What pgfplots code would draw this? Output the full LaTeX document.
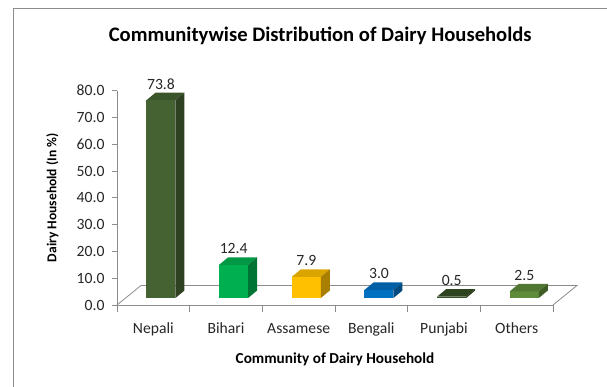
\documentclass[border=0pt]{standalone}
\usepackage{pgfplots}
\usepackage{pgfplotstable}
\pgfplotsset{compat=1.18}
\usepackage{fontspec}
\setmainfont{Carlito}

\definecolor{cnep}{HTML}{456332}
\definecolor{cbih}{HTML}{00B050}
\definecolor{cass}{HTML}{FFC000}
\definecolor{cben}{HTML}{0070C0}
\definecolor{cpun}{HTML}{344F23}
\definecolor{coth}{HTML}{5E8C3A}
\definecolor{axgray}{HTML}{8C8C8C}

\def\yu{2.68}
\pgfdeclareplotmark{box3d}{%
  \pgfmathtruncatemacro\bi{\barpos}%
  \ifcase\bi \def\barcol{cnep}\or \def\barcol{cbih}\or \def\barcol{cass}\or
    \def\barcol{cben}\or \def\barcol{cpun}\else \def\barcol{coth}\fi
  \pgfmathsetmacro\bh{\barv*\yu}%
  \pgfsetfillcolor{\barcol}%
  \pgfpathrectanglecorners{\pgfpoint{-14.5bp}{7bp-\bh bp}}{\pgfpoint{14.5bp}{7bp}}%
  \pgfusepath{fill}%
  \pgfsetfillcolor{\barcol!86!black}%
  \pgfpathmoveto{\pgfpoint{-14.5bp}{7bp}}%
  \pgfpathlineto{\pgfpoint{14.5bp}{7bp}}%
  \pgfpathlineto{\pgfpoint{23.5bp}{14.5bp}}%
  \pgfpathlineto{\pgfpoint{-5.5bp}{14.5bp}}%
  \pgfpathclose
  \pgfusepath{fill}%
  \pgfsetfillcolor{\barcol!66!black}%
  \pgfpathmoveto{\pgfpoint{14.5bp}{7bp}}%
  \pgfpathlineto{\pgfpoint{23.5bp}{14.5bp}}%
  \pgfpathlineto{\pgfpoint{23.5bp}{14.5bp-\bh bp}}%
  \pgfpathlineto{\pgfpoint{14.5bp}{7bp-\bh bp}}%
  \pgfpathclose
  \pgfusepath{fill}%
}

\pgfplotstableread{
pos v
0 73.8
1 12.4
2 7.9
3 3.0
4 0.5
5 2.5
}\bardata

\begin{document}
\begin{tikzpicture}
\useasboundingbox (0,0) rectangle (607bp,387bp);
\draw[axgray, line width=1.6bp] (13.5bp,0) -- (13.5bp,378.5bp) -- (607bp,378.5bp);
\begin{axis}[
  at={(117bp,82bp)}, anchor=south west,
  x=72.67bp, y=\yu bp,
  xmin=0, xmax=6, ymin=0, ymax=80,
  clip=false,
  axis x line*=bottom, axis y line*=left,
  axis line style={draw=axgray, line width=0.8bp},
  tick align=outside,
  tick style={draw=axgray, line width=0.8bp},
  major tick length=5bp,
  minor tick length=7bp,
  xtick={0.5,1.5,...,5.5},
  xticklabels={Nepali,Bihari,Assamese,Bengali,Punjabi,Others},
  major x tick style={draw=none},
  minor xtick={0,1,...,6},
  ytick={0,10,...,80},
  /pgf/number format/assume math mode=true,
  ticklabel style={font=\fontsize{15.7}{17}\selectfont, text=black!85},
  yticklabel style={xshift=-4bp, /pgf/number format/.cd, fixed, fixed zerofill, precision=1},
  xticklabel style={anchor=base, yshift=-23bp},
  title={Communitywise Distribution of Dairy Households},
  title style={at={(axis description cs:0.466,1.2034)}, anchor=base, font=\bfseries\fontsize{20.7}{22}\selectfont},
  xlabel={Community of Dairy Household},
  xlabel style={at={(axis description cs:0.5,-0.275)}, anchor=base, font=\bfseries\fontsize{15.3}{17}\selectfont},
  ylabel={Dairy Household (In \%)},
  ylabel style={at={(axis description cs:-0.148,0.5)}, anchor=center, font=\bfseries\fontsize{13.6}{15}\selectfont},
]
\addplot[axgray, line width=0.8bp] coordinates {(0,0) (0.33,7.28) (6.33,7.28) (6,0)};
\addplot[only marks, mark=box3d,
  visualization depends on={\thisrow{v} \as \barv},
  visualization depends on={\thisrow{pos} \as \barpos},
  nodes near coords={\pgfmathprintnumber[fixed,fixed zerofill,precision=1]{\pgfplotspointmeta}},
  nodes near coords align={center},
  every node near coord/.append style={anchor=base, yshift=18bp, inner sep=0pt, text=black!85, font=\fontsize{15.7}{17}\selectfont},
] table[x expr=\thisrow{pos}+0.605, y=v] {\bardata};
\end{axis}
\end{tikzpicture}
\end{document}
